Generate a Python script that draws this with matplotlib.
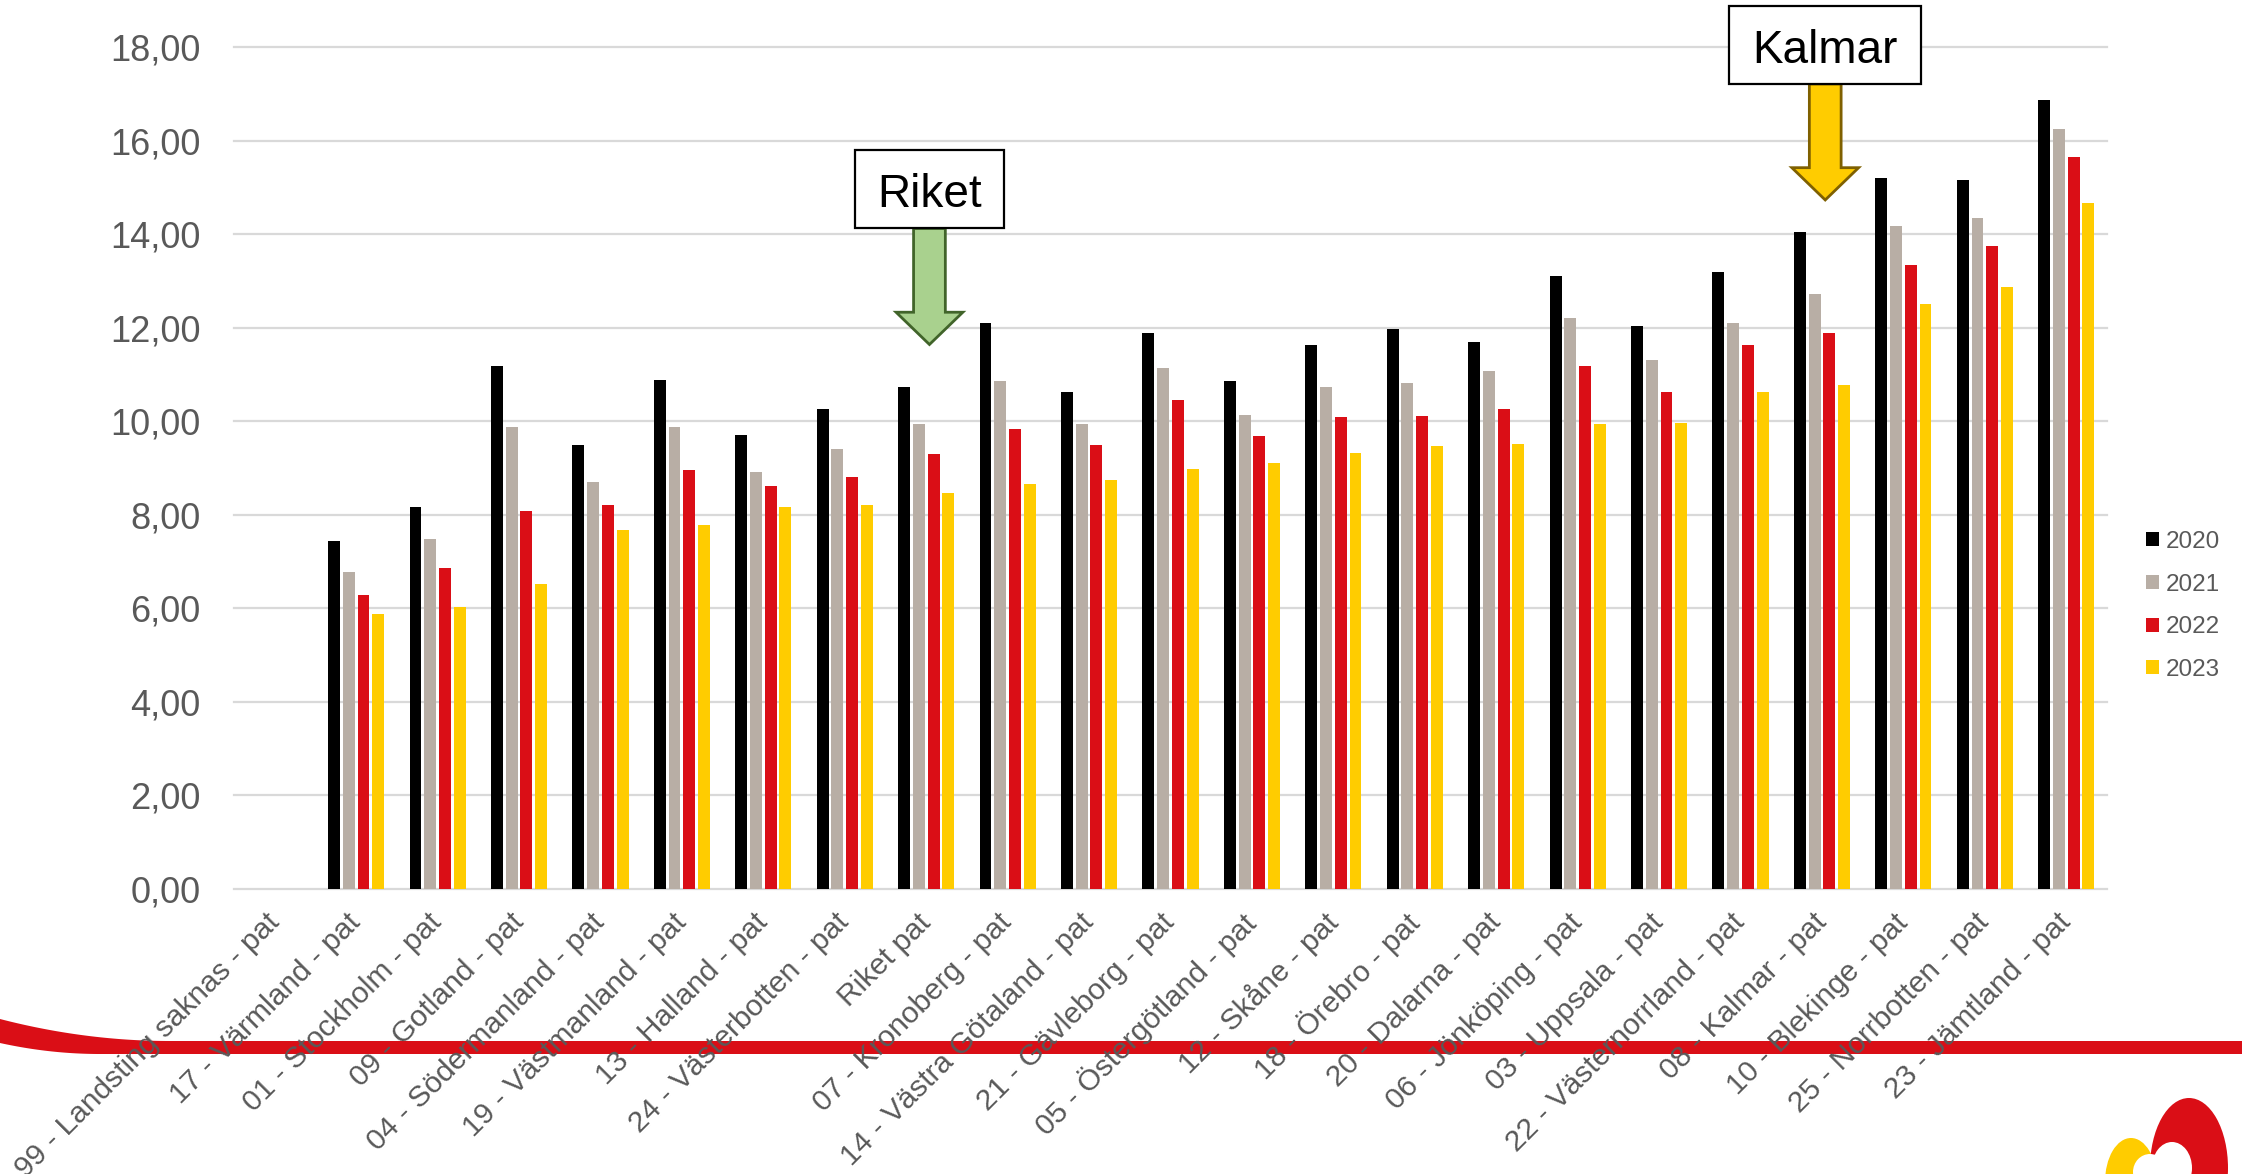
import numpy as np
import matplotlib
matplotlib.use("Agg")
import matplotlib.pyplot as plt
from matplotlib.patches import Polygon, Rectangle, Ellipse
from matplotlib.transforms import Affine2D
from matplotlib.ticker import FuncFormatter

plt.rcParams['font.family'] = ['Liberation Sans', 'DejaVu Sans']

categories = [
    "99 - Landsting saknas - pat", "17 - Värmland - pat", "01 - Stockholm - pat",
    "09 - Gotland - pat", "04 - Södermanland - pat", "19 - Västmanland - pat",
    "13 - Halland - pat", "24 - Västerbotten - pat", "Riket pat",
    "07 - Kronoberg - pat", "14 - Västra Götaland - pat", "21 - Gävleborg - pat",
    "05 - Östergötland - pat", "12 - Skåne - pat", "18 - Örebro - pat",
    "20 - Dalarna - pat", "06 - Jönköping - pat", "03 - Uppsala - pat",
    "22 - Västernorrland - pat", "08 - Kalmar - pat", "10 - Blekinge - pat",
    "25 - Norrbotten - pat", "23 - Jämtland - pat",
]
years = ["2020", "2021", "2022", "2023"]
v2020 = [np.nan, 7.45, 8.17, 11.19, 9.49, 10.89, 9.71, 10.27, 10.74, 12.10, 10.63, 11.89,
         10.87, 11.64, 11.98, 11.69, 13.11, 12.04, 13.20, 14.05, 15.20, 15.15, 16.87]
v2021 = [np.nan, 6.77, 7.49, 9.88, 8.71, 9.88, 8.92, 9.41, 9.93, 10.86, 9.93, 11.14,
         10.13, 10.73, 10.82, 11.07, 12.20, 11.31, 12.09, 12.71, 14.17, 14.35, 16.25]
v2022 = [np.nan, 6.28, 6.87, 8.09, 8.21, 8.95, 8.61, 8.80, 9.30, 9.83, 9.50, 10.45,
         9.68, 10.09, 10.12, 10.26, 11.18, 10.62, 11.62, 11.88, 13.35, 13.74, 15.65]
v2023 = [np.nan, 5.87, 6.02, 6.53, 7.68, 7.78, 8.17, 8.20, 8.47, 8.66, 8.75, 8.98,
         9.11, 9.31, 9.47, 9.51, 9.93, 9.97, 10.62, 10.78, 12.50, 12.87, 14.66]
colors = ["#000000", "#B8AEA5", "#DA0E16", "#FFCC00"]

# callout boxes with arrows
ann_labels = ["Riket", "Kalmar"]
ann_targets = ["Riket pat", "08 - Kalmar - pat"]
ann_box_top = [15.79, 18.88]
ann_box_bottom = [14.12, 17.21]
ann_head_top = [12.33, 15.42]
ann_tip = [11.64, 14.73]
ann_box_width = [1.83, 2.36]
ann_fill = ["#A9D18E", "#FFCC00"]
ann_edge = ["#41642A", "#7F6000"]

W, H = 2242, 1174
fig = plt.figure(figsize=(W / 100, H / 100), dpi=100)
px = Affine2D().scale(1 / W, -1 / H).translate(0, 1) + fig.transFigure

# red swoosh behind the labels
xs = np.linspace(0, 170, 40)
top = 1041 - 22 * (1 - xs / 170) ** 2
xs2 = np.linspace(100, 0, 30)
bot = 1054 - 11 * (1 - xs2 / 100) ** 2
pts = list(zip(xs, top)) + [(W, 1041), (W, 1054)] + list(zip(xs2, bot))
fig.add_artist(Polygon(pts, closed=True, facecolor="#DA0E16", edgecolor="none",
                       transform=px, zorder=-1))

# logo corner
fig.add_artist(Ellipse((2131, 1182), 52, 88, facecolor="#FFCC00", edgecolor="none", transform=px, zorder=-1))
fig.add_artist(Ellipse((2189, 1168), 78, 140, facecolor="#DA0E16", edgecolor="none", transform=px, zorder=-1))
fig.add_artist(Ellipse((2150, 1172), 34, 36, facecolor="white", edgecolor="none", transform=px, zorder=-1))
fig.add_artist(Ellipse((2172, 1168), 40, 52, facecolor="white", edgecolor="none", transform=px, zorder=-1))

ax = fig.add_axes([234 / W, 1 - 889 / H, (2107 - 234) / W, (889 - 47) / H])
ax.patch.set_alpha(0)

x = np.arange(len(categories))
step, width = 0.181, 0.146
for i, (vals, col, lab) in enumerate(zip([v2020, v2021, v2022, v2023], colors, years)):
    ax.bar(x + (i - 1.5) * step, vals, width, color=col, label=lab, zorder=2)

ax.set_xlim(-0.5, len(categories) - 0.5)
ax.set_ylim(0, 18)
ax.set_yticks(np.arange(0, 19, 2))
ax.yaxis.set_major_formatter(FuncFormatter(lambda v, p: f"{v:.2f}".replace(".", ",")))
ax.yaxis.grid(True, color="#D9D9D9", linewidth=1.6)
ax.set_axisbelow(True)
for gl in ax.get_ygridlines():
    gl.set_clip_on(False)
for s in ax.spines.values():
    s.set_visible(False)
ax.tick_params(axis="y", length=0, pad=24, labelsize=26, labelcolor="#595959")
ax.tick_params(axis="x", length=0, pad=21, labelsize=21.5, labelcolor="#595959")
ax.set_xticks(x)
ax.set_xticklabels(categories, rotation=45, ha="right", va="center", rotation_mode="anchor")

for lab, tgt, bt, bb, ht, tip, bw, fc, ec in zip(ann_labels, ann_targets, ann_box_top, ann_box_bottom,
                                                  ann_head_top, ann_tip, ann_box_width, ann_fill, ann_edge):
    cx = categories.index(tgt) + 0.04
    sw, hw = 0.195, 0.41
    arrow = [(cx - sw, bb), (cx + sw, bb), (cx + sw, ht), (cx + hw, ht), (cx, tip),
             (cx - hw, ht), (cx - sw, ht)]
    ax.add_patch(Polygon(arrow, closed=True, facecolor=fc, edgecolor=ec, linewidth=2,
                         clip_on=False, zorder=4))
    ax.add_patch(Rectangle((cx - bw / 2, bb), bw, bt - bb, facecolor="white", edgecolor="black",
                           linewidth=1.6, clip_on=False, zorder=5))
    ax.text(cx, (bt + bb) / 2 - 0.12, lab, ha="center", va="center", fontsize=33, color="black", zorder=6)

ax.legend(loc="center left", bbox_to_anchor=(2146 / W, 1 - 606 / H), bbox_transform=fig.transFigure,
          frameon=False, fontsize=17.5, handlelength=0.52, handleheight=0.52, handletextpad=0.3,
          labelspacing=0.85, borderpad=0, borderaxespad=0, labelcolor="#595959")

fig.savefig("out.png", dpi=100)
